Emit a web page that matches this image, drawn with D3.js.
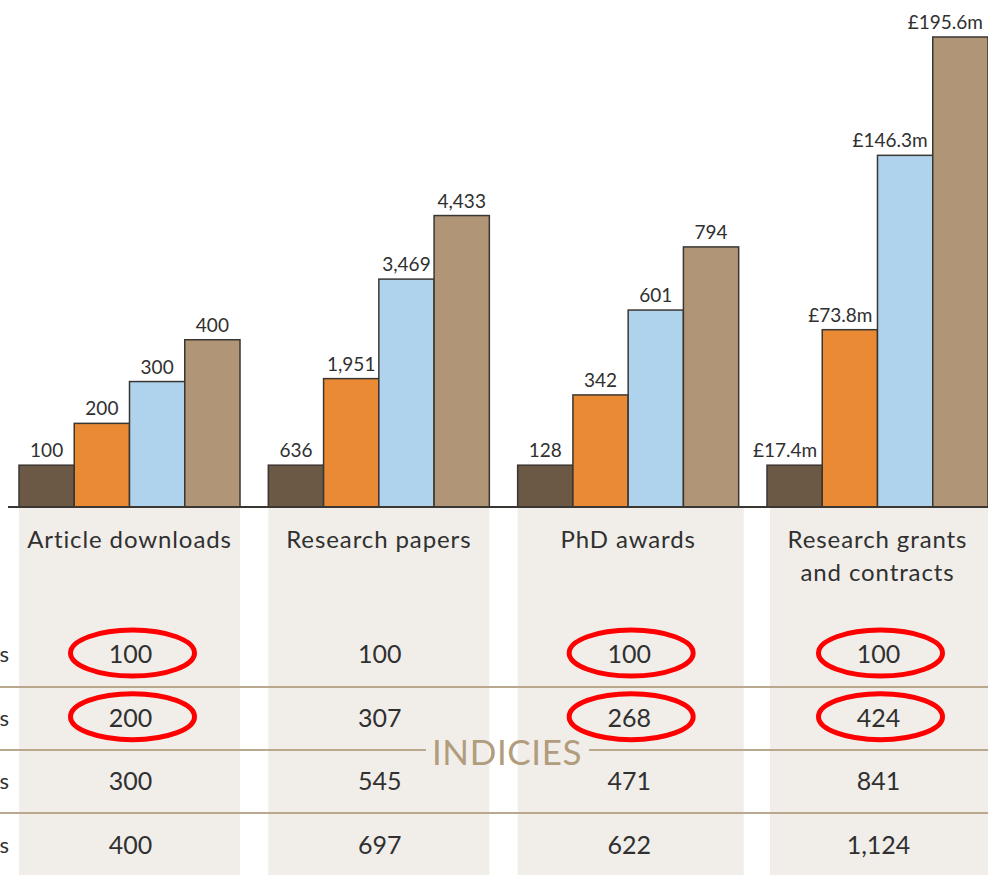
<!DOCTYPE html>
<html>
<head>
<meta charset="utf-8">
<script src="https://cdn.jsdelivr.net/npm/d3@7"></script>
<style>
  html, body { margin: 0; padding: 0; background: #fff; }
  svg { display: block; }
</style>
</head>
<body>
<svg id="chart" width="988" height="875"></svg>
<script>
// categories (label lines)
const categories = [
   ["Article downloads"],
   ["Research papers"],
   ["PhD awards"],
   ["Research grants", "and contracts"]
];

// raw values shown above the bars, one row per category
const rawValues = [
   [100, 200, 300, 400],
   [636, 1951, 3469, 4433],
   [128, 342, 601, 794],
   [17.4, 73.8, 146.3, 195.6]
];

// index values (bars are drawn from these, and they fill the table)
const indexValues = [
   [100, 200, 300, 400],
   [100, 307, 545, 697],
   [100, 268, 471, 622],
   [100, 424, 841, 1124]
];

// cells circled in red: [category, row]
const highlights = [[0, 0], [0, 1], [2, 0], [2, 1], [3, 0], [3, 1]];

// bar colours per period
const colors = ["#6b5845", "#ea8a35", "#afd3ec", "#b09576"];

const W = 988, H = 875;
const baseY = 507;
const FONT = "Lato, 'Open Sans', sans-serif";
const svg = d3.select("#chart");

const x0 = d3.scaleBand()
   .domain(d3.range(categories.length))
   .range([19, 988])
   .paddingInner(0.1136);

const x1 = d3.scaleBand()
   .domain(d3.range(colors.length))
   .range([0, x0.bandwidth()]);

const y = d3.scaleLinear()
   .domain([0, 1124])
   .range([baseY, 37]);

// row positions for the table
const rowY = d3.scalePoint()
   .domain(d3.range(4))
   .range([654, 845]);

const fmtMoney = (v) => "£" + d3.format(".1f")(v) + "m";
const fmtCount = d3.format(",");

// beige panels
svg.selectAll("rect.panel")
   .data(categories)
   .enter()
   .append("rect")
   .attr("class", "panel")
   .attr("x", (d, i) => x0(i) - (i === 3 ? -3 : 0))
   .attr("y", baseY)
   .attr("width", (d, i) => x0.bandwidth() + (i === 2 ? 5 : 0))
   .attr("height", H - baseY)
   .attr("fill", "#f1eeea");

// table separator lines (the middle one is broken by the INDICIES title)
const sepY = [687, 750, 813];
const gap = [426, 589];
sepY.forEach((yy, k) => {
   const segs = k === 1 ? [[0, gap[0]], [gap[1], W]] : [[0, W]];
   segs.forEach((s) => {
      svg.append("line")
         .attr("x1", s[0]).attr("x2", s[1])
         .attr("y1", yy).attr("y2", yy)
         .attr("stroke", "#b9a88e")
         .attr("stroke-width", 2);
   });
});

svg.append("text")
   .attr("x", 507)
   .attr("y", 765)
   .attr("text-anchor", "middle")
   .attr("font-family", FONT)
   .attr("font-size", 35)
   .attr("letter-spacing", 0.6)
   .attr("fill", "#b19d7e")
   .text("INDICIES");

// bar groups
const groups = svg.selectAll("g.group")
   .data(categories)
   .enter()
   .append("g")
   .attr("class", "group")
   .attr("transform", (d, i) => `translate(${x0(i)},0)`);

groups.selectAll("rect.bar")
   .data((d, i) => indexValues[i].map((v, j) => ({ v: v, j: j })))
   .enter()
   .append("rect")
   .attr("class", "bar")
   .attr("x", (d) => x1(d.j))
   .attr("y", (d) => y(d.v))
   .attr("width", x1.bandwidth())
   .attr("height", (d) => baseY - y(d.v))
   .attr("fill", (d) => colors[d.j])
   .attr("stroke", "#3a3632")
   .attr("stroke-width", 1.5);

// value labels: counts centred, money labels right-aligned to the bar
groups.selectAll("text.val")
   .data((d, i) => rawValues[i].map((v, j) => ({ v: v, j: j, i: i })))
   .enter()
   .append("text")
   .attr("class", "val")
   .attr("x", (d) => d.i === 3 ? x1(d.j) + x1.bandwidth() - 5 : x1(d.j) + x1.bandwidth() / 2)
   .attr("y", (d) => y(indexValues[d.i][d.j]) - 8)
   .attr("text-anchor", (d) => d.i === 3 ? "end" : "middle")
   .attr("font-family", FONT)
   .attr("font-size", 19)
   .attr("fill", "#303030")
   .text((d) => d.i === 3 ? fmtMoney(d.v) : fmtCount(d.v));

// baseline
svg.append("line")
   .attr("x1", 8).attr("x2", W)
   .attr("y1", baseY).attr("y2", baseY)
   .attr("stroke", "#3a3632")
   .attr("stroke-width", 2);

// category labels
groups.append("text")
   .attr("text-anchor", "middle")
   .attr("font-family", FONT)
   .attr("font-size", 24)
   .attr("letter-spacing", 0.9)
   .attr("fill", "#303030")
   .selectAll("tspan")
   .data((d) => d)
   .enter()
   .append("tspan")
   .attr("x", x0.bandwidth() / 2)
   .attr("y", (d, k) => 548 + k * 33)
   .text((d) => d);

// table values
groups.selectAll("text.idx")
   .data((d, i) => indexValues[i].map((v, j) => ({ v: v, j: j })))
   .enter()
   .append("text")
   .attr("class", "idx")
   .attr("x", x0.bandwidth() / 2 + 1)
   .attr("y", (d) => rowY(d.j) + 9)
   .attr("text-anchor", "middle")
   .attr("font-family", FONT)
   .attr("font-size", 25)
   .attr("fill", "#303030")
   .text((d) => fmtCount(d.v));

// cut-off row labels on the far left
svg.selectAll("text.rowlab")
   .data(d3.range(4))
   .enter()
   .append("text")
   .attr("class", "rowlab")
   .attr("x", 9)
   .attr("y", (d) => rowY(d) + 8)
   .attr("text-anchor", "end")
   .attr("font-family", FONT)
   .attr("font-size", 22)
   .attr("fill", "#303030")
   .text("s");

// red circles
svg.selectAll("ellipse.hl")
   .data(highlights)
   .enter()
   .append("ellipse")
   .attr("class", "hl")
   .attr("cx", (d) => x0(d[0]) + x0.bandwidth() / 2 + 3)
   .attr("cy", (d) => rowY(d[1]) - 1)
   .attr("rx", 62)
   .attr("ry", 23)
   .attr("fill", "none")
   .attr("stroke", "#ff0000")
   .attr("stroke-width", 5);
</script>
</body>
</html>
